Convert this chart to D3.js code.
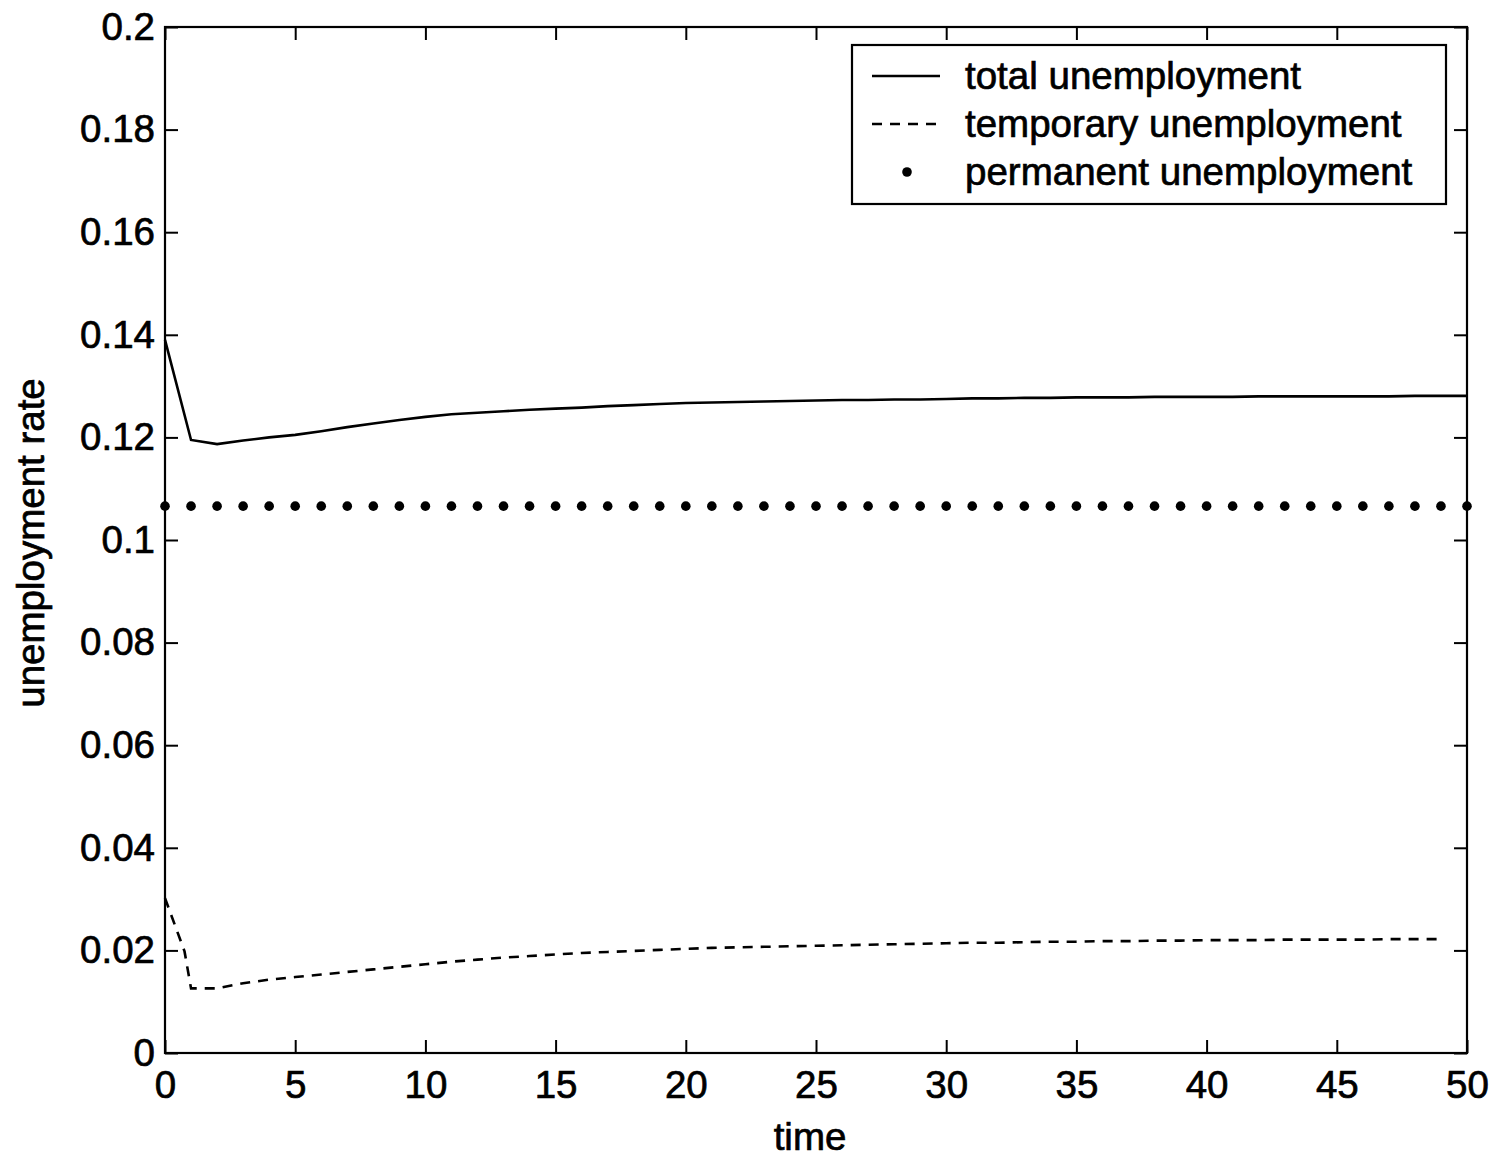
<!DOCTYPE html>
<html>
<head>
<meta charset="utf-8">
<script src="https://cdn.jsdelivr.net/npm/d3@7"></script>
<style>
  html, body { margin: 0; padding: 0; background: #fff; }
  svg { display: block; }
  text { font-family: "Liberation Sans", Arial, sans-serif; fill: #000; stroke: #000; stroke-width: 0.7px; }
</style>
</head>
<body>
<svg id="chart" width="1497" height="1158"></svg>
<script>
// ---- data ----
const totalTime = d3.range(0, 51);
const totalValues = [
  0.1390, 0.1195, 0.1187, 0.1194, 0.1200, 0.1205, 0.1212, 0.1220, 0.1227, 0.1234,
  0.1240, 0.1245, 0.1248, 0.1251, 0.1254, 0.1256, 0.1258, 0.1261, 0.1263, 0.1265,
  0.1267, 0.1268, 0.1269, 0.1270, 0.1271, 0.1272, 0.1273, 0.1273, 0.1274, 0.1274,
  0.1275, 0.1276, 0.1276, 0.1277, 0.1277, 0.1278, 0.1278, 0.1278, 0.1279, 0.1279,
  0.1279, 0.1279, 0.1280, 0.1280, 0.1280, 0.1280, 0.1280, 0.1280, 0.1281, 0.1281, 0.1281
];
const tempTime = [0, 0.75].concat(d3.range(1, 51));
const tempValues = [
  0.0302, 0.0198,
  0.0126, 0.0126, 0.0136, 0.0143, 0.0148, 0.0153, 0.0158, 0.0163, 0.0168,
  0.0173, 0.0178, 0.0182, 0.0186, 0.0189, 0.0192, 0.0195, 0.0197, 0.0199, 0.0201,
  0.0203, 0.0205, 0.0206, 0.0207, 0.0208, 0.0209, 0.0210, 0.0211, 0.0212, 0.0213,
  0.0214, 0.0215, 0.0215, 0.0216, 0.0217, 0.0217, 0.0218, 0.0218, 0.0219, 0.0219,
  0.0220, 0.0220, 0.0220, 0.0221, 0.0221, 0.0221, 0.0221, 0.0222, 0.0222, 0.0222
];
const permTime = d3.range(0, 51);
const permValues = permTime.map(() => 0.1066);
const xTicks = [0, 5, 10, 15, 20, 25, 30, 35, 40, 45, 50];
const yTicks = [0, 0.02, 0.04, 0.06, 0.08, 0.1, 0.12, 0.14, 0.16, 0.18, 0.2];
const legendLabels = ["total unemployment", "temporary unemployment", "permanent unemployment"];
const xLabel = "time";
const yLabel = "unemployment rate";

// ---- layout ----
const L = 165, R = 1467, T = 27, B = 1053;
const svg = d3.select("#chart");
const x = d3.scaleLinear().domain([0, 50]).range([L, R]);
const y = d3.scaleLinear().domain([0, 0.2]).range([B, T]);
const FS = 38.5;

// axes with inward ticks
const fmtY = d => String(+d.toFixed(2));
const gL = svg.append("g").attr("transform", `translate(${L},0)`)
  .call(d3.axisLeft(y).tickValues(yTicks).tickFormat(fmtY).tickSizeInner(-13).tickSizeOuter(0).tickPadding(10));
const gR = svg.append("g").attr("transform", `translate(${R},0)`)
  .call(d3.axisRight(y).tickValues(yTicks).tickFormat("").tickSizeInner(-13).tickSizeOuter(0));
const gB = svg.append("g").attr("transform", `translate(0,${B})`)
  .call(d3.axisBottom(x).tickValues(xTicks).tickFormat(d3.format("d")).tickSizeInner(-13).tickSizeOuter(0).tickPadding(18));
const gT = svg.append("g").attr("transform", `translate(0,${T})`)
  .call(d3.axisTop(x).tickValues(xTicks).tickFormat("").tickSizeInner(-13).tickSizeOuter(0));
[gL, gR, gB, gT].forEach(g => {
  g.select(".domain").remove();
  g.selectAll(".tick line").attr("stroke", "#000").attr("stroke-width", 2);
  g.selectAll(".tick text").attr("font-size", FS).attr("fill", "#000")
    .attr("font-family", "Liberation Sans, Arial, sans-serif");
});

// frame
svg.append("rect").attr("x", L).attr("y", T).attr("width", R - L).attr("height", B - T)
  .attr("fill", "none").attr("stroke", "#000").attr("stroke-width", 2.2);

// series
const lineT = d3.line().x((d, i) => x(totalTime[i])).y(d => y(d));
svg.append("path").datum(totalValues).attr("d", lineT)
  .attr("fill", "none").attr("stroke", "#000").attr("stroke-width", 2.6);

const lineTemp = d3.line().x((d, i) => x(tempTime[i])).y(d => y(d));
svg.append("path").datum(tempValues).attr("d", lineTemp)
  .attr("fill", "none").attr("stroke", "#000").attr("stroke-width", 2.6)
  .attr("stroke-dasharray", "10,8");

svg.append("g").selectAll("circle").data(permValues).join("circle")
  .attr("cx", (d, i) => x(permTime[i])).attr("cy", d => y(d)).attr("r", 4.8).attr("fill", "#000");

// axis labels
svg.append("text").attr("x", 810).attr("y", 1150).attr("text-anchor", "middle")
  .attr("font-size", FS).text(xLabel);
svg.append("text").attr("transform", `translate(44,${(T + B) / 2 + 3}) rotate(-90)`)
  .attr("text-anchor", "middle").attr("font-size", FS).text(yLabel);

// legend
const lg = svg.append("g");
lg.append("rect").attr("x", 852).attr("y", 45).attr("width", 594).attr("height", 159)
  .attr("fill", "#fff").attr("stroke", "#000").attr("stroke-width", 2.2);
const rows = [76, 124, 172];
lg.append("line").attr("x1", 872).attr("x2", 940).attr("y1", rows[0]).attr("y2", rows[0])
  .attr("stroke", "#000").attr("stroke-width", 2.6);
lg.append("line").attr("x1", 872).attr("x2", 940).attr("y1", rows[1]).attr("y2", rows[1])
  .attr("stroke", "#000").attr("stroke-width", 2.6).attr("stroke-dasharray", "10,8");
lg.append("circle").attr("cx", 907).attr("cy", rows[2]).attr("r", 4.8).attr("fill", "#000");
lg.selectAll("text.lab").data(legendLabels).join("text").attr("class", "lab")
  .attr("x", 965).attr("y", (d, i) => rows[i]).attr("dy", "0.35em")
  .attr("font-size", FS).text(d => d);
</script>
</body>
</html>
